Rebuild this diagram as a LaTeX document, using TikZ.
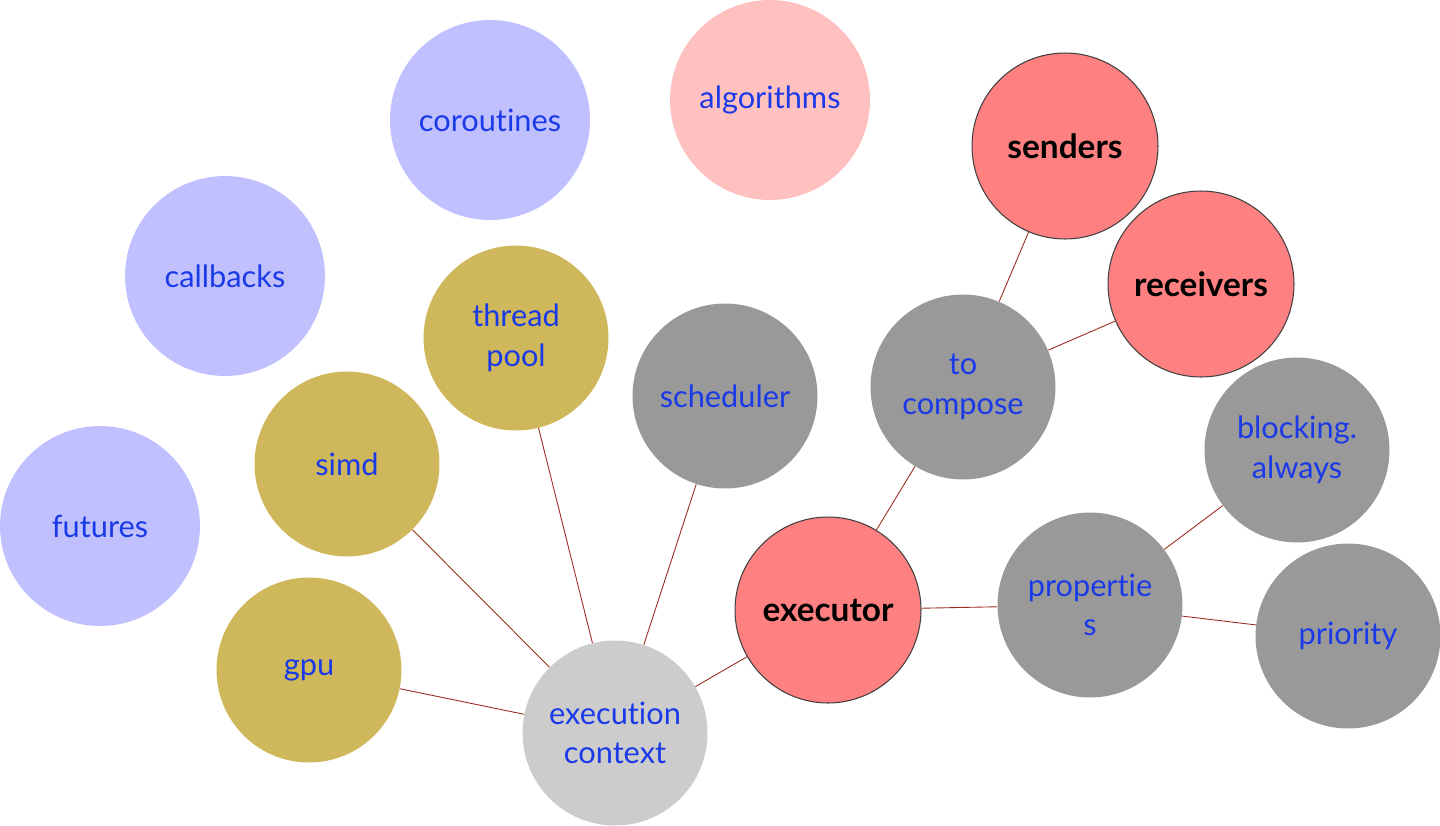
\documentclass[tikz,border=0pt]{standalone}
\usepackage{fontspec}
\setmainfont[Ligatures = {NoCommon, NoContextual}, RawFeature = {-clig}]{Lato}
\usepackage{tikz}
\usetikzlibrary{positioning}

\definecolor{lila}{HTML}{C0C0FF}
\definecolor{rosa}{HTML}{FFC0C0}
\definecolor{rojo}{HTML}{FF8080}
\definecolor{oro}{HTML}{CFB75B}
\definecolor{gris}{HTML}{999999}
\definecolor{grisclaro}{HTML}{CCCCCC}
\definecolor{azul}{HTML}{1A3AE8}
\definecolor{linea}{HTML}{9B2B1F}

\begin{document}
\begin{tikzpicture}[x=0.02cm, y=-0.02cm,
    bola/.style = {circle, minimum size = 3.7cm, inner sep = 0pt, align = center,
                   text = azul, font = \fontsize{17.5}{22.5}\selectfont},
    grande/.style = {bola, minimum size = 4cm},
    clave/.style = {bola, minimum size = 3.72cm, fill = rojo, draw = black!75,
                    line width = 0.6pt, text = black, font = \fontsize{19}{23}\selectfont\bfseries},
    enlace/.style = {draw = linea, line width = 0.5pt}]
      \useasboundingbox (0, 0) rectangle (1440, 825);

      % ideas sueltas
      \node[grande, fill = lila] (futures) at (100, 526) {futures};
      \node[grande, fill = lila] (callbacks) at (225, 276) {callbacks};
      \node[grande, fill = lila] (coroutines) at (490, 120) {coroutines};
      \node[grande, fill = rosa] (algorithms) at (770, 100) {algorithms};

      % contextos
      \node[bola, fill = oro] (threadpool) at (516, 338) {thread\\pool};
      \node[bola, fill = oro] (simd) at (347, 464) {simd};
      \node[bola, fill = oro] (gpu) at (309, 670) {gpu};
      \node[bola, fill = gris] (scheduler) at (725, 396) {scheduler};
      \node[bola, fill = grisclaro] (context) at (615, 733) {execution\\context};

      % executor y vecinos
      \node[clave] (executor) at (828, 610) {executor};
      \node[bola, fill = gris] (compose) at (963, 387) {to\\compose};
      \node[clave] (senders) at (1065, 146) {senders};
      \node[clave] (receivers) at (1201, 284) {receivers};
      \node[bola, fill = gris] (properties) at (1090, 605) {propert\kern0pt ie\\s};
      \node[bola, fill = gris] (blocking) at (1297, 450) {blocking.\\always};
      \node[bola, fill = gris] (priority) at (1348, 636) {priority};

      \draw (context) edge[enlace] (gpu);
      \draw (context) edge[enlace] (simd);
      \draw (context) edge[enlace] (threadpool);
      \draw (context) edge[enlace] (scheduler);
      \draw (context) edge[enlace] (executor);
      \draw (executor) edge[enlace] (compose);
      \draw (executor) edge[enlace] (properties);
      \draw (compose) edge[enlace] (senders);
      \draw (compose) edge[enlace] (receivers);
      \draw (properties) edge[enlace] (blocking);
      \draw (properties) edge[enlace] (priority);
    \end{tikzpicture}
\end{document}
